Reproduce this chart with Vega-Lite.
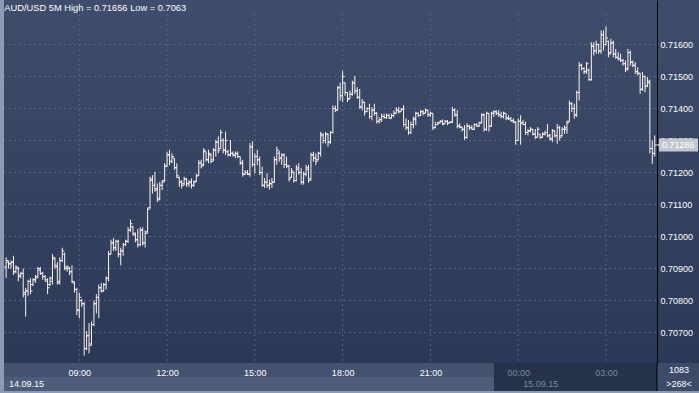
{
"$schema": "https://vega.github.io/schema/vega-lite/v6.json",
"background": "#8d9ab2",
"padding": {"left": 3, "top": 0, "right": 0, "bottom": 2},
"autosize": {"type": "pad"},
"bounds": "flush",
"spacing": 0,
"config": {"view": {"stroke": null}, "font": "Liberation Sans"},
"datasets": {
"bars": [
{"t":"2015-09-14T06:30","o":0.70905,"h":0.70935,"l":0.7087,"c":0.70925},
{"t":"2015-09-14T06:35","o":0.7092,"h":0.70925,"l":0.709,"c":0.70915},
{"t":"2015-09-14T06:40","o":0.70915,"h":0.70925,"l":0.709,"c":0.7092},
{"t":"2015-09-14T06:45","o":0.7092,"h":0.7094,"l":0.7088,"c":0.7089},
{"t":"2015-09-14T06:50","o":0.7089,"h":0.7091,"l":0.70885,"c":0.70905},
{"t":"2015-09-14T06:55","o":0.709,"h":0.70905,"l":0.7086,"c":0.70875},
{"t":"2015-09-14T07:00","o":0.7088,"h":0.7089,"l":0.7087,"c":0.70885},
{"t":"2015-09-14T07:05","o":0.70885,"h":0.709,"l":0.7081,"c":0.7082},
{"t":"2015-09-14T07:10","o":0.70825,"h":0.7084,"l":0.7075,"c":0.7083},
{"t":"2015-09-14T07:15","o":0.7083,"h":0.70865,"l":0.70815,"c":0.7086},
{"t":"2015-09-14T07:20","o":0.7086,"h":0.7087,"l":0.7082,"c":0.7083},
{"t":"2015-09-14T07:25","o":0.7085,"h":0.7087,"l":0.70845,"c":0.70865},
{"t":"2015-09-14T07:30","o":0.70865,"h":0.7088,"l":0.70855,"c":0.7087},
{"t":"2015-09-14T07:35","o":0.70875,"h":0.70905,"l":0.7087,"c":0.709},
{"t":"2015-09-14T07:40","o":0.70895,"h":0.70905,"l":0.7088,"c":0.70885},
{"t":"2015-09-14T07:45","o":0.70885,"h":0.7089,"l":0.70865,"c":0.70875},
{"t":"2015-09-14T07:50","o":0.70875,"h":0.7088,"l":0.7086,"c":0.70865},
{"t":"2015-09-14T07:55","o":0.7086,"h":0.7087,"l":0.7082,"c":0.7084},
{"t":"2015-09-14T08:00","o":0.7085,"h":0.70875,"l":0.70845,"c":0.7087},
{"t":"2015-09-14T08:05","o":0.7086,"h":0.70945,"l":0.7085,"c":0.70935},
{"t":"2015-09-14T08:10","o":0.7093,"h":0.70935,"l":0.709,"c":0.7091},
{"t":"2015-09-14T08:15","o":0.70905,"h":0.7092,"l":0.7085,"c":0.70855},
{"t":"2015-09-14T08:20","o":0.7086,"h":0.70935,"l":0.7085,"c":0.70925},
{"t":"2015-09-14T08:25","o":0.70925,"h":0.70965,"l":0.7092,"c":0.70955},
{"t":"2015-09-14T08:30","o":0.70945,"h":0.7095,"l":0.70895,"c":0.70905},
{"t":"2015-09-14T08:35","o":0.709,"h":0.7091,"l":0.7089,"c":0.70905},
{"t":"2015-09-14T08:40","o":0.709,"h":0.70905,"l":0.7088,"c":0.7089},
{"t":"2015-09-14T08:45","o":0.7089,"h":0.7091,"l":0.70855,"c":0.7086},
{"t":"2015-09-14T08:50","o":0.70855,"h":0.7086,"l":0.70825,"c":0.70835},
{"t":"2015-09-14T08:55","o":0.70835,"h":0.7084,"l":0.70755,"c":0.7077},
{"t":"2015-09-14T09:00","o":0.7077,"h":0.70825,"l":0.70745,"c":0.7081},
{"t":"2015-09-14T09:05","o":0.708,"h":0.70805,"l":0.7078,"c":0.7079},
{"t":"2015-09-14T09:10","o":0.7079,"h":0.70795,"l":0.70628,"c":0.7065},
{"t":"2015-09-14T09:15","o":0.7065,"h":0.70705,"l":0.70645,"c":0.7069},
{"t":"2015-09-14T09:20","o":0.7069,"h":0.7073,"l":0.70635,"c":0.7066},
{"t":"2015-09-14T09:25","o":0.70665,"h":0.70735,"l":0.7066,"c":0.70725},
{"t":"2015-09-14T09:30","o":0.70725,"h":0.708,"l":0.7072,"c":0.7079},
{"t":"2015-09-14T09:35","o":0.7079,"h":0.7082,"l":0.7076,"c":0.7081},
{"t":"2015-09-14T09:40","o":0.7081,"h":0.7085,"l":0.70745,"c":0.7084},
{"t":"2015-09-14T09:45","o":0.7084,"h":0.70855,"l":0.70825,"c":0.7083},
{"t":"2015-09-14T09:50","o":0.7083,"h":0.70855,"l":0.70828,"c":0.7085},
{"t":"2015-09-14T09:55","o":0.7085,"h":0.70875,"l":0.70835,"c":0.7087},
{"t":"2015-09-14T10:00","o":0.7087,"h":0.70955,"l":0.7086,"c":0.70945},
{"t":"2015-09-14T10:05","o":0.70945,"h":0.7099,"l":0.70945,"c":0.7098},
{"t":"2015-09-14T10:10","o":0.7098,"h":0.70995,"l":0.70955,"c":0.70965},
{"t":"2015-09-14T10:15","o":0.70965,"h":0.7099,"l":0.70955,"c":0.70985},
{"t":"2015-09-14T10:20","o":0.70985,"h":0.7099,"l":0.70935,"c":0.70945},
{"t":"2015-09-14T10:25","o":0.70945,"h":0.70965,"l":0.7091,"c":0.70955},
{"t":"2015-09-14T10:30","o":0.70955,"h":0.7098,"l":0.7094,"c":0.70975},
{"t":"2015-09-14T10:35","o":0.70975,"h":0.7099,"l":0.7097,"c":0.70985},
{"t":"2015-09-14T10:40","o":0.70985,"h":0.7103,"l":0.7098,"c":0.7102},
{"t":"2015-09-14T10:45","o":0.7102,"h":0.71053,"l":0.71015,"c":0.7104},
{"t":"2015-09-14T10:50","o":0.7103,"h":0.71034,"l":0.71003,"c":0.7101},
{"t":"2015-09-14T10:55","o":0.71005,"h":0.71013,"l":0.70982,"c":0.7099},
{"t":"2015-09-14T11:00","o":0.7099,"h":0.71024,"l":0.70966,"c":0.70975},
{"t":"2015-09-14T11:05","o":0.70975,"h":0.71029,"l":0.7097,"c":0.7102},
{"t":"2015-09-14T11:10","o":0.7102,"h":0.71029,"l":0.70972,"c":0.7098},
{"t":"2015-09-14T11:15","o":0.7098,"h":0.71019,"l":0.70966,"c":0.7101},
{"t":"2015-09-14T11:20","o":0.71015,"h":0.7109,"l":0.7101,"c":0.71085},
{"t":"2015-09-14T11:25","o":0.7109,"h":0.71187,"l":0.71087,"c":0.7118},
{"t":"2015-09-14T11:30","o":0.71175,"h":0.71192,"l":0.71134,"c":0.7116},
{"t":"2015-09-14T11:35","o":0.7116,"h":0.71202,"l":0.7114,"c":0.71145},
{"t":"2015-09-14T11:40","o":0.7115,"h":0.71166,"l":0.71108,"c":0.71115},
{"t":"2015-09-14T11:45","o":0.7112,"h":0.71171,"l":0.71113,"c":0.7116},
{"t":"2015-09-14T11:50","o":0.7116,"h":0.71176,"l":0.71145,"c":0.7117},
{"t":"2015-09-14T11:55","o":0.71175,"h":0.71229,"l":0.71171,"c":0.7122},
{"t":"2015-09-14T12:00","o":0.7122,"h":0.71265,"l":0.71218,"c":0.71255},
{"t":"2015-09-14T12:05","o":0.71255,"h":0.71271,"l":0.71223,"c":0.71235},
{"t":"2015-09-14T12:10","o":0.71235,"h":0.7126,"l":0.71229,"c":0.7125},
{"t":"2015-09-14T12:15","o":0.71245,"h":0.71245,"l":0.71208,"c":0.71215},
{"t":"2015-09-14T12:20","o":0.71215,"h":0.71229,"l":0.71182,"c":0.7119},
{"t":"2015-09-14T12:25","o":0.71185,"h":0.71187,"l":0.71155,"c":0.7117},
{"t":"2015-09-14T12:30","o":0.7117,"h":0.71176,"l":0.7115,"c":0.7116},
{"t":"2015-09-14T12:35","o":0.71165,"h":0.71187,"l":0.7116,"c":0.7118},
{"t":"2015-09-14T12:40","o":0.7118,"h":0.71182,"l":0.71155,"c":0.71165},
{"t":"2015-09-14T12:45","o":0.71165,"h":0.71176,"l":0.71155,"c":0.7117},
{"t":"2015-09-14T12:50","o":0.7117,"h":0.71182,"l":0.7115,"c":0.7116},
{"t":"2015-09-14T12:55","o":0.7116,"h":0.71176,"l":0.71155,"c":0.7117},
{"t":"2015-09-14T13:00","o":0.71172,"h":0.71197,"l":0.71171,"c":0.7119},
{"t":"2015-09-14T13:05","o":0.7119,"h":0.71239,"l":0.7119,"c":0.7123},
{"t":"2015-09-14T13:10","o":0.7123,"h":0.7124,"l":0.71213,"c":0.7122},
{"t":"2015-09-14T13:15","o":0.71225,"h":0.71276,"l":0.7122,"c":0.7127},
{"t":"2015-09-14T13:20","o":0.71265,"h":0.71265,"l":0.71234,"c":0.7124},
{"t":"2015-09-14T13:25","o":0.7124,"h":0.71271,"l":0.71229,"c":0.7126},
{"t":"2015-09-14T13:30","o":0.71255,"h":0.7126,"l":0.71229,"c":0.71235},
{"t":"2015-09-14T13:35","o":0.7124,"h":0.71276,"l":0.71235,"c":0.7127},
{"t":"2015-09-14T13:40","o":0.7127,"h":0.71302,"l":0.7125,"c":0.71295},
{"t":"2015-09-14T13:45","o":0.71295,"h":0.71313,"l":0.7126,"c":0.7127},
{"t":"2015-09-14T13:50","o":0.71275,"h":0.71334,"l":0.71275,"c":0.71325},
{"t":"2015-09-14T13:55","o":0.713,"h":0.71307,"l":0.7126,"c":0.7127},
{"t":"2015-09-14T14:00","o":0.7127,"h":0.71328,"l":0.71255,"c":0.713},
{"t":"2015-09-14T14:05","o":0.71265,"h":0.71271,"l":0.7125,"c":0.71255},
{"t":"2015-09-14T14:10","o":0.71255,"h":0.71302,"l":0.7125,"c":0.7126},
{"t":"2015-09-14T14:15","o":0.7126,"h":0.71266,"l":0.7125,"c":0.71255},
{"t":"2015-09-14T14:20","o":0.71255,"h":0.71266,"l":0.71245,"c":0.7126},
{"t":"2015-09-14T14:25","o":0.71258,"h":0.71266,"l":0.71245,"c":0.7125},
{"t":"2015-09-14T14:30","o":0.7125,"h":0.7125,"l":0.71224,"c":0.7123},
{"t":"2015-09-14T14:35","o":0.7123,"h":0.7124,"l":0.71187,"c":0.71195},
{"t":"2015-09-14T14:40","o":0.71195,"h":0.71208,"l":0.71192,"c":0.712},
{"t":"2015-09-14T14:45","o":0.712,"h":0.71208,"l":0.71192,"c":0.71195},
{"t":"2015-09-14T14:50","o":0.71195,"h":0.71292,"l":0.71187,"c":0.7128},
{"t":"2015-09-14T14:55","o":0.7128,"h":0.71297,"l":0.71218,"c":0.71225},
{"t":"2015-09-14T15:00","o":0.71225,"h":0.7126,"l":0.71197,"c":0.7125},
{"t":"2015-09-14T15:05","o":0.7125,"h":0.71271,"l":0.71223,"c":0.7124},
{"t":"2015-09-14T15:10","o":0.7124,"h":0.7125,"l":0.71192,"c":0.712},
{"t":"2015-09-14T15:15","o":0.712,"h":0.71218,"l":0.71155,"c":0.7116},
{"t":"2015-09-14T15:20","o":0.7116,"h":0.71183,"l":0.71152,"c":0.7117},
{"t":"2015-09-14T15:25","o":0.7117,"h":0.71198,"l":0.71152,"c":0.7116},
{"t":"2015-09-14T15:30","o":0.7116,"h":0.71178,"l":0.71147,"c":0.71165},
{"t":"2015-09-14T15:35","o":0.71165,"h":0.71183,"l":0.71152,"c":0.7117},
{"t":"2015-09-14T15:40","o":0.7117,"h":0.7125,"l":0.71168,"c":0.7124},
{"t":"2015-09-14T15:45","o":0.7124,"h":0.71281,"l":0.71224,"c":0.7127},
{"t":"2015-09-14T15:50","o":0.7126,"h":0.71268,"l":0.71234,"c":0.71245},
{"t":"2015-09-14T15:55","o":0.71245,"h":0.7126,"l":0.71224,"c":0.71255},
{"t":"2015-09-14T16:00","o":0.71255,"h":0.7126,"l":0.71214,"c":0.71225},
{"t":"2015-09-14T16:05","o":0.71225,"h":0.7125,"l":0.71214,"c":0.7122},
{"t":"2015-09-14T16:10","o":0.7122,"h":0.71224,"l":0.71172,"c":0.7118},
{"t":"2015-09-14T16:15","o":0.71185,"h":0.71214,"l":0.71183,"c":0.71205},
{"t":"2015-09-14T16:20","o":0.712,"h":0.71203,"l":0.71168,"c":0.71175},
{"t":"2015-09-14T16:25","o":0.71175,"h":0.71224,"l":0.71172,"c":0.71215},
{"t":"2015-09-14T16:30","o":0.7121,"h":0.71229,"l":0.71193,"c":0.712},
{"t":"2015-09-14T16:35","o":0.712,"h":0.71214,"l":0.71162,"c":0.7117},
{"t":"2015-09-14T16:40","o":0.7117,"h":0.71203,"l":0.71162,"c":0.71195},
{"t":"2015-09-14T16:45","o":0.71195,"h":0.71224,"l":0.71188,"c":0.71215},
{"t":"2015-09-14T16:50","o":0.7121,"h":0.71224,"l":0.71168,"c":0.71175},
{"t":"2015-09-14T16:55","o":0.7118,"h":0.71262,"l":0.71175,"c":0.71255},
{"t":"2015-09-14T17:00","o":0.71255,"h":0.71265,"l":0.71234,"c":0.71245},
{"t":"2015-09-14T17:05","o":0.71245,"h":0.7126,"l":0.71224,"c":0.71235},
{"t":"2015-09-14T17:10","o":0.7124,"h":0.71265,"l":0.71238,"c":0.7126},
{"t":"2015-09-14T17:15","o":0.7126,"h":0.71327,"l":0.7125,"c":0.7132},
{"t":"2015-09-14T17:20","o":0.71315,"h":0.71322,"l":0.71291,"c":0.713},
{"t":"2015-09-14T17:25","o":0.713,"h":0.71327,"l":0.71291,"c":0.7132},
{"t":"2015-09-14T17:30","o":0.7132,"h":0.71322,"l":0.71281,"c":0.71295},
{"t":"2015-09-14T17:35","o":0.71295,"h":0.7133,"l":0.7129,"c":0.71325},
{"t":"2015-09-14T17:40","o":0.71325,"h":0.71409,"l":0.71322,"c":0.714},
{"t":"2015-09-14T17:45","o":0.714,"h":0.71409,"l":0.71389,"c":0.71395},
{"t":"2015-09-14T17:50","o":0.71395,"h":0.71471,"l":0.71394,"c":0.71465},
{"t":"2015-09-14T17:55","o":0.71465,"h":0.71481,"l":0.71425,"c":0.7144},
{"t":"2015-09-14T18:00","o":0.7144,"h":0.71518,"l":0.7142,"c":0.715},
{"t":"2015-09-14T18:05","o":0.7148,"h":0.71481,"l":0.7144,"c":0.7145},
{"t":"2015-09-14T18:10","o":0.7145,"h":0.71451,"l":0.7142,"c":0.7143},
{"t":"2015-09-14T18:15","o":0.7143,"h":0.71456,"l":0.7143,"c":0.71445},
{"t":"2015-09-14T18:20","o":0.71445,"h":0.71487,"l":0.7144,"c":0.7148},
{"t":"2015-09-14T18:25","o":0.7148,"h":0.71502,"l":0.71445,"c":0.71455},
{"t":"2015-09-14T18:30","o":0.71455,"h":0.71466,"l":0.7143,"c":0.71435},
{"t":"2015-09-14T18:35","o":0.71435,"h":0.71461,"l":0.71399,"c":0.71405},
{"t":"2015-09-14T18:40","o":0.71405,"h":0.7143,"l":0.71394,"c":0.7142},
{"t":"2015-09-14T18:45","o":0.7142,"h":0.7142,"l":0.71378,"c":0.7139},
{"t":"2015-09-14T18:50","o":0.7139,"h":0.71404,"l":0.71389,"c":0.714},
{"t":"2015-09-14T18:55","o":0.714,"h":0.71415,"l":0.71368,"c":0.71375},
{"t":"2015-09-14T19:00","o":0.71375,"h":0.71404,"l":0.71363,"c":0.71395},
{"t":"2015-09-14T19:05","o":0.71395,"h":0.71415,"l":0.71378,"c":0.71385},
{"t":"2015-09-14T19:10","o":0.71385,"h":0.71389,"l":0.71353,"c":0.7136},
{"t":"2015-09-14T19:15","o":0.7136,"h":0.71373,"l":0.71353,"c":0.71365},
{"t":"2015-09-14T19:20","o":0.71365,"h":0.71384,"l":0.71358,"c":0.71375},
{"t":"2015-09-14T19:25","o":0.71375,"h":0.71384,"l":0.71368,"c":0.71372},
{"t":"2015-09-14T19:30","o":0.71372,"h":0.71384,"l":0.71368,"c":0.71378},
{"t":"2015-09-14T19:35","o":0.71378,"h":0.71384,"l":0.71368,"c":0.7137},
{"t":"2015-09-14T19:40","o":0.7137,"h":0.71384,"l":0.71368,"c":0.71378},
{"t":"2015-09-14T19:45","o":0.71378,"h":0.71394,"l":0.71373,"c":0.71385},
{"t":"2015-09-14T19:50","o":0.71385,"h":0.71404,"l":0.71384,"c":0.71395},
{"t":"2015-09-14T19:55","o":0.71395,"h":0.71405,"l":0.71385,"c":0.7139},
{"t":"2015-09-14T20:00","o":0.7139,"h":0.714,"l":0.7139,"c":0.71398},
{"t":"2015-09-14T20:05","o":0.71398,"h":0.7141,"l":0.71343,"c":0.7135},
{"t":"2015-09-14T20:10","o":0.7135,"h":0.71369,"l":0.71333,"c":0.7134},
{"t":"2015-09-14T20:15","o":0.7134,"h":0.71364,"l":0.71318,"c":0.71325},
{"t":"2015-09-14T20:20","o":0.71325,"h":0.71359,"l":0.7132,"c":0.7135},
{"t":"2015-09-14T20:25","o":0.7135,"h":0.71374,"l":0.71338,"c":0.7137},
{"t":"2015-09-14T20:30","o":0.71365,"h":0.7139,"l":0.71348,"c":0.71385},
{"t":"2015-09-14T20:35","o":0.71385,"h":0.71388,"l":0.71374,"c":0.71378},
{"t":"2015-09-14T20:40","o":0.71378,"h":0.71395,"l":0.71376,"c":0.7139},
{"t":"2015-09-14T20:45","o":0.7139,"h":0.71395,"l":0.71379,"c":0.71385},
{"t":"2015-09-14T20:50","o":0.71385,"h":0.714,"l":0.71385,"c":0.71395},
{"t":"2015-09-14T20:55","o":0.71395,"h":0.71395,"l":0.71374,"c":0.7138},
{"t":"2015-09-14T21:00","o":0.7138,"h":0.7139,"l":0.71374,"c":0.71385},
{"t":"2015-09-14T21:05","o":0.71385,"h":0.71385,"l":0.71333,"c":0.7134},
{"t":"2015-09-14T21:10","o":0.7134,"h":0.71359,"l":0.71338,"c":0.7135},
{"t":"2015-09-14T21:15","o":0.7135,"h":0.71359,"l":0.71348,"c":0.71355},
{"t":"2015-09-14T21:20","o":0.71355,"h":0.71364,"l":0.71354,"c":0.7136},
{"t":"2015-09-14T21:25","o":0.7136,"h":0.71366,"l":0.71348,"c":0.71352},
{"t":"2015-09-14T21:30","o":0.71352,"h":0.71364,"l":0.71352,"c":0.7136},
{"t":"2015-09-14T21:35","o":0.7136,"h":0.71364,"l":0.71348,"c":0.71355},
{"t":"2015-09-14T21:40","o":0.71355,"h":0.71359,"l":0.71354,"c":0.71358},
{"t":"2015-09-14T21:45","o":0.71358,"h":0.71405,"l":0.71354,"c":0.71395},
{"t":"2015-09-14T21:50","o":0.71395,"h":0.714,"l":0.71374,"c":0.7138},
{"t":"2015-09-14T21:55","o":0.7138,"h":0.71395,"l":0.71338,"c":0.71345},
{"t":"2015-09-14T22:00","o":0.71345,"h":0.71354,"l":0.71338,"c":0.71342},
{"t":"2015-09-14T22:05","o":0.71342,"h":0.71343,"l":0.71328,"c":0.71335},
{"t":"2015-09-14T22:10","o":0.71335,"h":0.71348,"l":0.71302,"c":0.7131},
{"t":"2015-09-14T22:15","o":0.7131,"h":0.71354,"l":0.71305,"c":0.71345},
{"t":"2015-09-14T22:20","o":0.71345,"h":0.71348,"l":0.71333,"c":0.7134},
{"t":"2015-09-14T22:25","o":0.7134,"h":0.71348,"l":0.71333,"c":0.71335},
{"t":"2015-09-14T22:30","o":0.71335,"h":0.71354,"l":0.71333,"c":0.7135},
{"t":"2015-09-14T22:35","o":0.7135,"h":0.71354,"l":0.71343,"c":0.71345},
{"t":"2015-09-14T22:40","o":0.71345,"h":0.71359,"l":0.71343,"c":0.71355},
{"t":"2015-09-14T22:45","o":0.71355,"h":0.71385,"l":0.71354,"c":0.7138},
{"t":"2015-09-14T22:50","o":0.7138,"h":0.71385,"l":0.71328,"c":0.71335},
{"t":"2015-09-14T22:55","o":0.71335,"h":0.7139,"l":0.7133,"c":0.71385},
{"t":"2015-09-14T23:00","o":0.71385,"h":0.71385,"l":0.71328,"c":0.71345},
{"t":"2015-09-14T23:05","o":0.71345,"h":0.7139,"l":0.71343,"c":0.71385},
{"t":"2015-09-14T23:10","o":0.71385,"h":0.71395,"l":0.71374,"c":0.7139},
{"t":"2015-09-14T23:15","o":0.7139,"h":0.71395,"l":0.71379,"c":0.71385},
{"t":"2015-09-14T23:20","o":0.71385,"h":0.71395,"l":0.71374,"c":0.7138},
{"t":"2015-09-14T23:25","o":0.7138,"h":0.7139,"l":0.71369,"c":0.71375},
{"t":"2015-09-14T23:30","o":0.71375,"h":0.7139,"l":0.71369,"c":0.71385},
{"t":"2015-09-14T23:35","o":0.71385,"h":0.71385,"l":0.71364,"c":0.7137},
{"t":"2015-09-14T23:40","o":0.7137,"h":0.71379,"l":0.71364,"c":0.71368},
{"t":"2015-09-14T23:45","o":0.71368,"h":0.71374,"l":0.71359,"c":0.71362},
{"t":"2015-09-14T23:50","o":0.71362,"h":0.71369,"l":0.71354,"c":0.71358},
{"t":"2015-09-14T23:55","o":0.71358,"h":0.7136,"l":0.71287,"c":0.713},
{"t":"2015-09-15T00:00","o":0.713,"h":0.71369,"l":0.713,"c":0.7136},
{"t":"2015-09-15T00:05","o":0.7136,"h":0.71379,"l":0.71287,"c":0.71355},
{"t":"2015-09-15T00:10","o":0.71355,"h":0.71364,"l":0.71348,"c":0.7135},
{"t":"2015-09-15T00:15","o":0.7135,"h":0.71359,"l":0.71318,"c":0.71325},
{"t":"2015-09-15T00:20","o":0.71325,"h":0.71336,"l":0.71316,"c":0.7133},
{"t":"2015-09-15T00:25","o":0.7133,"h":0.71342,"l":0.71326,"c":0.71335},
{"t":"2015-09-15T00:30","o":0.71335,"h":0.71336,"l":0.71316,"c":0.7132},
{"t":"2015-09-15T00:35","o":0.7132,"h":0.71336,"l":0.71305,"c":0.7131},
{"t":"2015-09-15T00:40","o":0.7131,"h":0.71342,"l":0.7131,"c":0.71335},
{"t":"2015-09-15T00:45","o":0.7132,"h":0.71321,"l":0.71305,"c":0.7131},
{"t":"2015-09-15T00:50","o":0.7131,"h":0.71326,"l":0.7131,"c":0.7132},
{"t":"2015-09-15T00:55","o":0.7132,"h":0.71331,"l":0.71316,"c":0.71325},
{"t":"2015-09-15T01:00","o":0.71325,"h":0.71352,"l":0.7131,"c":0.71315},
{"t":"2015-09-15T01:05","o":0.71315,"h":0.71321,"l":0.713,"c":0.71305},
{"t":"2015-09-15T01:10","o":0.71305,"h":0.71336,"l":0.71295,"c":0.7133},
{"t":"2015-09-15T01:15","o":0.7133,"h":0.71331,"l":0.7131,"c":0.71315},
{"t":"2015-09-15T01:20","o":0.71315,"h":0.71352,"l":0.7129,"c":0.7134},
{"t":"2015-09-15T01:25","o":0.7134,"h":0.71347,"l":0.713,"c":0.7131},
{"t":"2015-09-15T01:30","o":0.71315,"h":0.71342,"l":0.71312,"c":0.71335},
{"t":"2015-09-15T01:35","o":0.71335,"h":0.71347,"l":0.71321,"c":0.7134},
{"t":"2015-09-15T01:40","o":0.71335,"h":0.71362,"l":0.71321,"c":0.71355},
{"t":"2015-09-15T01:45","o":0.7136,"h":0.71425,"l":0.71358,"c":0.71415},
{"t":"2015-09-15T01:50","o":0.71415,"h":0.7142,"l":0.71389,"c":0.714},
{"t":"2015-09-15T01:55","o":0.714,"h":0.71415,"l":0.71368,"c":0.7138},
{"t":"2015-09-15T02:00","o":0.7138,"h":0.71456,"l":0.71373,"c":0.7145},
{"t":"2015-09-15T02:05","o":0.7145,"h":0.71545,"l":0.71425,"c":0.71535},
{"t":"2015-09-15T02:10","o":0.71535,"h":0.7154,"l":0.71519,"c":0.71525},
{"t":"2015-09-15T02:15","o":0.71525,"h":0.71529,"l":0.71508,"c":0.71515},
{"t":"2015-09-15T02:20","o":0.71515,"h":0.71545,"l":0.71508,"c":0.7154},
{"t":"2015-09-15T02:25","o":0.7152,"h":0.71525,"l":0.71487,"c":0.7149},
{"t":"2015-09-15T02:30","o":0.7149,"h":0.71607,"l":0.71487,"c":0.71595},
{"t":"2015-09-15T02:35","o":0.71595,"h":0.71607,"l":0.71566,"c":0.7158},
{"t":"2015-09-15T02:40","o":0.7158,"h":0.71612,"l":0.71571,"c":0.716},
{"t":"2015-09-15T02:45","o":0.716,"h":0.71602,"l":0.71571,"c":0.7158},
{"t":"2015-09-15T02:50","o":0.7158,"h":0.71644,"l":0.71571,"c":0.7163},
{"t":"2015-09-15T02:55","o":0.7163,"h":0.71644,"l":0.71581,"c":0.716},
{"t":"2015-09-15T03:00","o":0.716,"h":0.71656,"l":0.71597,"c":0.7162},
{"t":"2015-09-15T03:05","o":0.7161,"h":0.71612,"l":0.7156,"c":0.7157},
{"t":"2015-09-15T03:10","o":0.71575,"h":0.71618,"l":0.7157,"c":0.71605},
{"t":"2015-09-15T03:15","o":0.71605,"h":0.71612,"l":0.7156,"c":0.7157},
{"t":"2015-09-15T03:20","o":0.7157,"h":0.71586,"l":0.71555,"c":0.7156},
{"t":"2015-09-15T03:25","o":0.7156,"h":0.71576,"l":0.7155,"c":0.71555},
{"t":"2015-09-15T03:30","o":0.71555,"h":0.71571,"l":0.71545,"c":0.7155},
{"t":"2015-09-15T03:35","o":0.7155,"h":0.71555,"l":0.71534,"c":0.7154},
{"t":"2015-09-15T03:40","o":0.7154,"h":0.7155,"l":0.71514,"c":0.7152},
{"t":"2015-09-15T03:45","o":0.71525,"h":0.71586,"l":0.7152,"c":0.71575},
{"t":"2015-09-15T03:50","o":0.71575,"h":0.71581,"l":0.71534,"c":0.71545},
{"t":"2015-09-15T03:55","o":0.71545,"h":0.7155,"l":0.71529,"c":0.71535},
{"t":"2015-09-15T04:00","o":0.71535,"h":0.71545,"l":0.71508,"c":0.71515},
{"t":"2015-09-15T04:05","o":0.71515,"h":0.71529,"l":0.71503,"c":0.7151},
{"t":"2015-09-15T04:10","o":0.7151,"h":0.71512,"l":0.71446,"c":0.7146},
{"t":"2015-09-15T04:15","o":0.7146,"h":0.71514,"l":0.71455,"c":0.715},
{"t":"2015-09-15T04:20","o":0.715,"h":0.71503,"l":0.71451,"c":0.7147},
{"t":"2015-09-15T04:25","o":0.7147,"h":0.71498,"l":0.71467,"c":0.71485},
{"t":"2015-09-15T04:30","o":0.7148,"h":0.7149,"l":0.7126,"c":0.71275},
{"t":"2015-09-15T04:35","o":0.71275,"h":0.713,"l":0.71227,"c":0.7126},
{"t":"2015-09-15T04:40","o":0.7126,"h":0.71316,"l":0.7125,"c":0.71286}
],
"levels": [{"p":0.707},{"p":0.708},{"p":0.709},{"p":0.71},{"p":0.711},{"p":0.712},{"p":0.713},{"p":0.714},{"p":0.715},{"p":0.716}],
"hours": [{"g":"2015-09-14T09:00"},{"g":"2015-09-14T12:00"},{"g":"2015-09-14T15:00"},{"g":"2015-09-14T18:00"},{"g":"2015-09-14T21:00"},{"g":"2015-09-15T00:00"},{"g":"2015-09-15T03:00"}]
},
"vconcat": [
{
"width": 696,
"height": 363,
"view": {"stroke": null, "fill": {"gradient": "linear", "x1": 0, "y1": 0, "x2": 0, "y2": 1, "stops": [{"offset": 0, "color": "#3f4d6a"}, {"offset": 1, "color": "#2b3856"}]}},
"layer": [
{"data": {"name": "levels"}, "mark": {"type": "rule", "color": "#56668a", "strokeDash": [2, 3], "strokeWidth": 1},
 "encoding": {
  "y": {"field": "p", "type": "quantitative", "scale": {"domain": [0.70605, 0.71739], "zero": false, "nice": false}},
  "x": {"datum": {"year": 2015, "month": 9, "date": 14, "hours": 6, "minutes": 25, "seconds": 36}, "type": "temporal", "scale": {"domain": [{"year": 2015, "month": 9, "date": 14, "hours": 6, "minutes": 25, "seconds": 36}, {"year": 2015, "month": 9, "date": 15, "hours": 6, "minutes": 12, "seconds": 48}]}},
  "x2": {"datum": {"year": 2015, "month": 9, "date": 15, "hours": 4, "minutes": 44, "seconds": 36}}
 }},
{"data": {"name": "hours"}, "mark": {"type": "rule", "color": "#56668a", "strokeDash": [2, 3], "strokeWidth": 1},
 "encoding": {"x": {"field": "g", "type": "temporal"}, "y": {"datum": 0.71695, "type": "quantitative"}, "y2": {"datum": 0.70605}}},
{"data": {"name": "bars"}, "mark": {"type": "rule", "color": "#fdf5ef", "strokeWidth": 1},
 "encoding": {
  "x": {"field": "t", "type": "temporal", "scale": {"domain": [{"year": 2015, "month": 9, "date": 14, "hours": 6, "minutes": 25, "seconds": 36}, {"year": 2015, "month": 9, "date": 15, "hours": 6, "minutes": 12, "seconds": 48}]},
        "axis": {"title": null, "labels": false, "ticks": false, "grid": false, "domain": true, "domainColor": "#000000", "domainWidth": 1}},
  "y": {"field": "l", "type": "quantitative", "scale": {"domain": [0.70605, 0.71739], "zero": false, "nice": false},
        "axis": {"title": null, "orient": "right", "offset": -43, "values": [0.707, 0.708, 0.709, 0.71, 0.711, 0.712, 0.713, 0.714, 0.715, 0.716], "format": ".5f", "labelColor": "#ffffff", "labelFontSize": 9, "labelFont": "Liberation Sans", "labelPadding": 3, "ticks": false, "grid": false, "domain": true, "domainColor": "#000000", "domainWidth": 1}},
  "y2": {"field": "h"}
 }},
{"data": {"name": "bars"}, "mark": {"type": "tick", "orient": "horizontal", "size": 2, "thickness": 1, "xOffset": -1, "color": "#fdf5ef", "opacity": 1},
 "encoding": {"x": {"field": "t", "type": "temporal"}, "y": {"field": "o", "type": "quantitative"}}},
{"data": {"name": "bars"}, "mark": {"type": "tick", "orient": "horizontal", "size": 2, "thickness": 1, "xOffset": 1, "color": "#fdf5ef", "opacity": 1},
 "encoding": {"x": {"field": "t", "type": "temporal"}, "y": {"field": "c", "type": "quantitative"}}},
{"data": {"values": [{}]}, "mark": {"type": "rect", "color": "#c3c7cf"},
 "encoding": {
  "x": {"datum": {"year": 2015, "month": 9, "date": 15, "hours": 4, "minutes": 48, "seconds": 42}, "type": "temporal"},
  "x2": {"datum": {"year": 2015, "month": 9, "date": 15, "hours": 6, "minutes": 8, "seconds": 42}},
  "y": {"datum": 0.71306, "type": "quantitative"},
  "y2": {"datum": 0.71266}
 }},
{"data": {"values": [{}]}, "mark": {"type": "point", "shape": "triangle-left", "filled": true, "size": 30, "color": "#c3c7cf", "opacity": 1},
 "encoding": {
  "x": {"datum": {"year": 2015, "month": 9, "date": 15, "hours": 4, "minutes": 48, "seconds": 42}, "type": "temporal"},
  "y": {"datum": 0.71286, "type": "quantitative"}
 }},
{"data": {"values": [{"last": "0.71286"}]}, "mark": {"type": "text", "align": "left", "baseline": "middle", "dx": 3, "fontSize": 9, "color": "#ffffff"},
 "encoding": {
  "x": {"datum": {"year": 2015, "month": 9, "date": 15, "hours": 4, "minutes": 48, "seconds": 42}, "type": "temporal"},
  "y": {"datum": 0.71286, "type": "quantitative"},
  "text": {"field": "last"}
 }},
{"data": {"values": [{"caption": "AUD/USD 5M High = 0.71656 Low = 0.7063"}]}, "mark": {"type": "text", "align": "left", "baseline": "alphabetic", "dx": 0.3, "dy": 11, "fontSize": 9.3, "color": "#ffffff", "font": "Liberation Sans"},
 "encoding": {
  "x": {"datum": {"year": 2015, "month": 9, "date": 14, "hours": 6, "minutes": 25, "seconds": 36}, "type": "temporal"},
  "y": {"datum": 0.71739, "type": "quantitative"},
  "text": {"field": "caption"}
 }}
]
},
{
"width": 696,
"height": 28,
"layer": [
{"data": {"values": [{"a": "2015-09-14T06:25:36", "b": "2015-09-14T23:10:20", "row": "time"}, {"a": "2015-09-14T06:25:36", "b": "2015-09-14T23:10:20", "row": "date"}]},
 "mark": {"type": "rect"},
 "encoding": {
  "x": {"field": "a", "type": "temporal", "scale": {"domain": [{"year": 2015, "month": 9, "date": 14, "hours": 6, "minutes": 25, "seconds": 36}, {"year": 2015, "month": 9, "date": 15, "hours": 6, "minutes": 12, "seconds": 48}]},
        "axis": {"title": null, "orient": "top", "offset": -15, "values": [{"year": 2015, "month": 9, "date": 14, "hours": 9}, {"year": 2015, "month": 9, "date": 14, "hours": 12}, {"year": 2015, "month": 9, "date": 14, "hours": 15}, {"year": 2015, "month": 9, "date": 14, "hours": 18}, {"year": 2015, "month": 9, "date": 14, "hours": 21}, {"year": 2015, "month": 9, "date": 15, "hours": 0}, {"year": 2015, "month": 9, "date": 15, "hours": 3}],
                 "format": "%H:%M", "labelFontSize": 9, "labelFont": "Liberation Sans", "labelBaseline": "alphabetic", "labelPadding": 2.3,
                 "labelColor": {"condition": {"test": "datum.value >= datetime(2015, 8, 15)", "value": "#7b879f"}, "value": "#ffffff"},
                 "labelOverlap": false, "labelFlush": false, "domain": false, "ticks": false, "grid": false, "zindex": 2}},
  "x2": {"field": "b"},
  "y": {"field": "row", "type": "nominal", "scale": {"domain": ["time", "date"], "paddingInner": 0, "paddingOuter": 0}, "axis": null},
  "color": {"field": "row", "type": "nominal", "scale": {"domain": ["time", "date"], "range": ["#43526f", "#4d5c79"]}, "legend": null}
 }},
{"data": {"values": [{}]}, "mark": {"type": "rect", "color": "#26324a"},
 "encoding": {
  "x": {"datum": {"year": 2015, "month": 9, "date": 14, "hours": 23, "minutes": 10, "seconds": 20}, "type": "temporal"},
  "x2": {"datum": {"year": 2015, "month": 9, "date": 15, "hours": 4, "minutes": 44, "seconds": 36}}
 }},
{"data": {"values": [{}]}, "mark": {"type": "rect", "color": "#3d4b68"},
 "encoding": {
  "x": {"datum": {"year": 2015, "month": 9, "date": 15, "hours": 4, "minutes": 44, "seconds": 36}, "type": "temporal"},
  "x2": {"datum": {"year": 2015, "month": 9, "date": 15, "hours": 6, "minutes": 12, "seconds": 48}}
 }},
{"data": {"values": [{}]}, "mark": {"type": "rule", "color": "#000000", "strokeWidth": 1},
 "encoding": {"x": {"datum": {"year": 2015, "month": 9, "date": 15, "hours": 4, "minutes": 44, "seconds": 36}, "type": "temporal"}}},
{"data": {"values": [{"label": "1083", "row": "time"}, {"label": ">268<", "row": "date"}]},
 "mark": {"type": "text", "color": "#ffffff", "fontSize": 9, "baseline": "middle", "font": "Liberation Sans"},
 "encoding": {
  "x": {"datum": {"year": 2015, "month": 9, "date": 15, "hours": 5, "minutes": 29, "seconds": 42}, "type": "temporal"},
  "y": {"field": "row", "type": "nominal"},
  "text": {"field": "label"}
 }},
{"data": {"values": [{"d": "2015-09-14T06:25:36", "label": "14.09.15", "day": "d1"}, {"d": "2015-09-15T00:00", "label": "15.09.15", "day": "d2"}]},
 "mark": {"type": "text", "align": "left", "dx": 5, "fontSize": 9, "baseline": "middle", "font": "Liberation Sans"},
 "encoding": {
  "x": {"field": "d", "type": "temporal"},
  "y": {"datum": "date"},
  "text": {"field": "label"},
  "color": {"condition": {"test": "datum.day === 'd2'", "value": "#7b879f"}, "value": "#ffffff"}
 }}
]
}
]
}
